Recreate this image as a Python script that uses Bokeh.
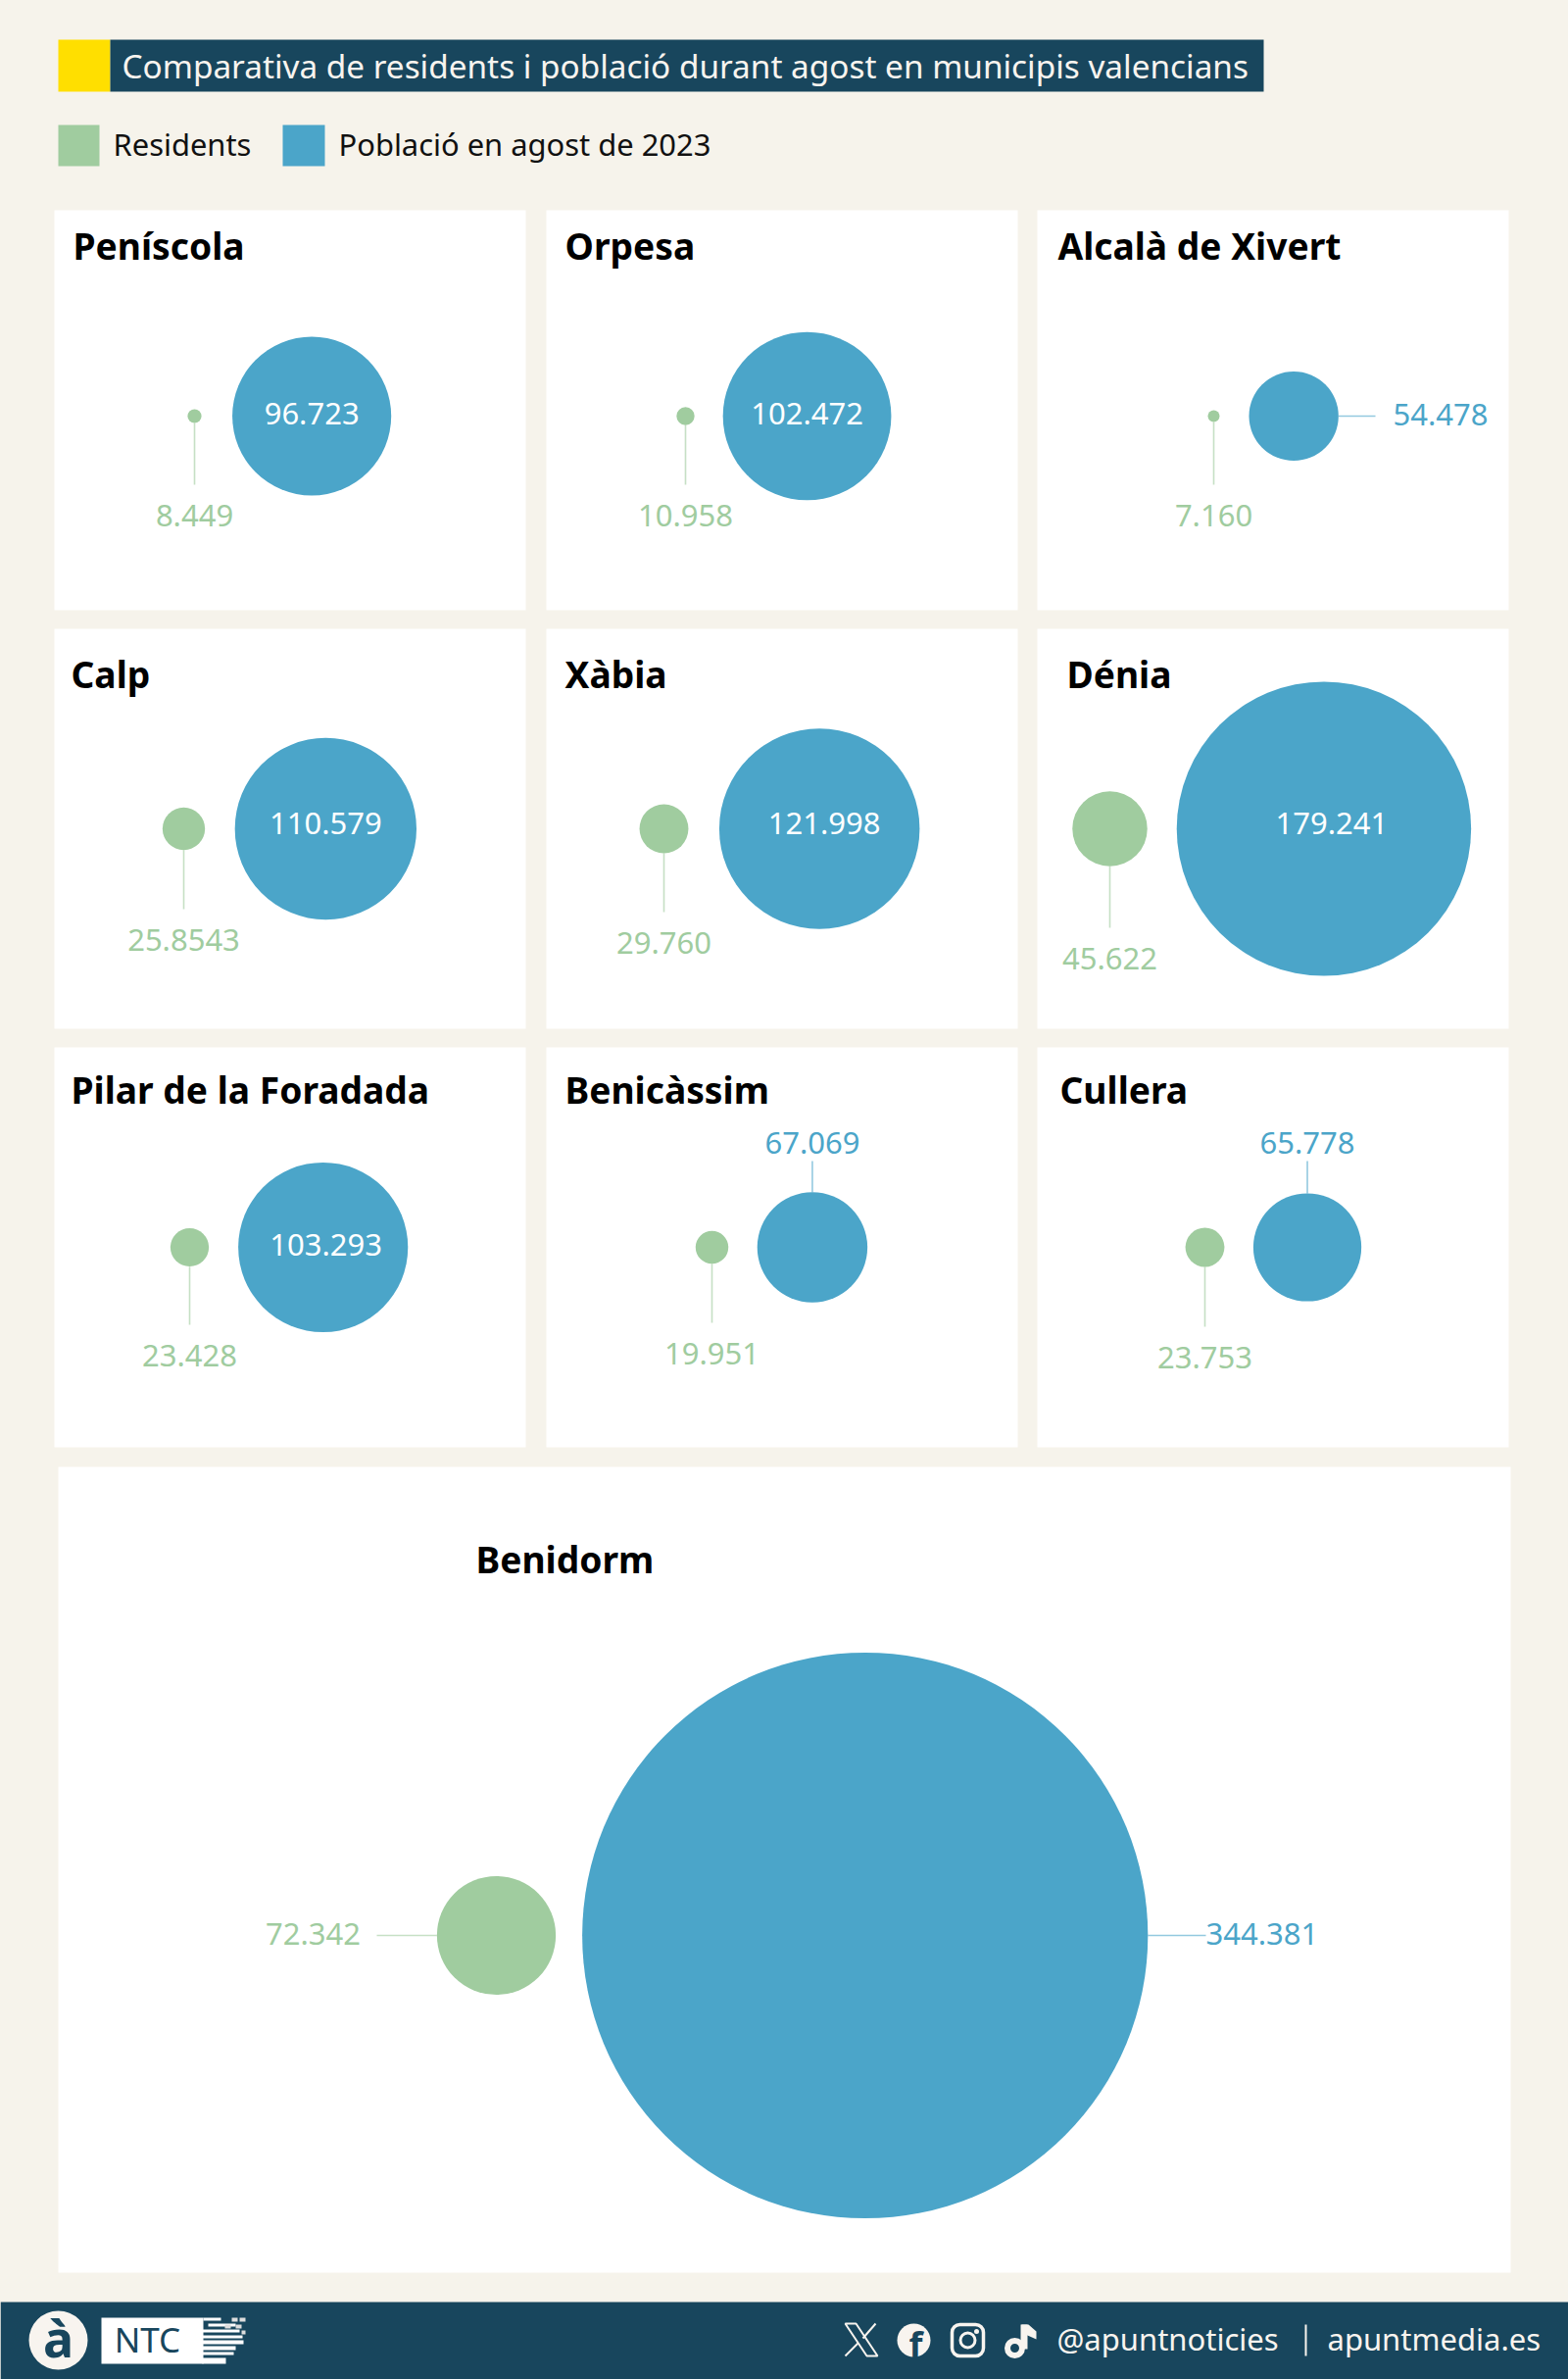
from bokeh.core.properties import value
from bokeh.embed import file_html
from bokeh.models import GlobalInlineStyleSheet, Range1d
from bokeh.plotting import figure
from bokeh.resources import INLINE

# data
municipis = ["Peníscola", "Orpesa", "Alcalà de Xivert", "Calp", "Xàbia", "Dénia",
             "Pilar de la Foradada", "Benicàssim", "Cullera", "Benidorm"]
residents = [8449, 10958, 7160, 25854, 29760, 45622, 23428, 19951, 23753, 72342]
poblacio = [96723, 102472, 54478, 110579, 121998, 179241, 103293, 67069, 65778, 344381]
residents_txt = ["8.449", "10.958", "7.160", "25.8543", "29.760", "45.622",
                 "23.428", "19.951", "23.753", "72.342"]
poblacio_txt = ["96.723", "102.472", "54.478", "110.579", "121.998", "179.241",
                "103.293", "67.069", "65.778", "344.381"]

titol = "Comparativa de residents i població durant agost en municipis valencians"
llegenda = ["Residents", "Població en agost de 2023"]

# colours
FONS = "#f6f3eb"
NAVY = "#18465d"
GROC = "#ffdf00"
VERD = "#a0cc9f"
BLAU = "#4ba5c9"
CREMA = "#f8f4ef"
FONT = value("Noto Sans")

# layout of the panels, in page pixels
panel_x0 = [55, 557, 1058, 55, 557, 1058, 55, 557, 1058, 59]
panel_x1 = [536, 1038, 1539, 536, 1038, 1539, 536, 1038, 1539, 1541]
panel_y0 = [214, 214, 214, 641, 641, 641, 1068, 1068, 1068, 1496]
panel_y1 = [622, 622, 622, 1049, 1049, 1049, 1476, 1476, 1476, 2318]
nom_x = [74, 576, 1079, 72, 576, 1088, 72, 576, 1081, 485]
nom_y = [250, 250, 250, 687, 687, 687, 1111, 1111, 1111, 1590]
cx_verd = [198, 699, 1238, 187, 677, 1132, 193, 726, 1229, 506]
cy = [424, 424, 424, 845, 845, 845, 1272, 1272, 1272, 1974]
etiq_verd_y = [525, 525, 525, 958, 961, 977, 1382, 1380, 1384, 1972]
etiq_blau_dx = [0, 0, 0, 0, 5, 8, 3, 0, 0, 0]
etiq_blau_dy = [-3, -3, -3, -6, -6, -6, -3, -3, -3, -3]
gap = [31.5, 29, 30, 30.5, 31.5, 30, 30, 29.5, 29.5, 27]

PX_PER_HAB = 288.6 / 344381   # bubble radius grows linearly with the value

p = figure(width=1600, height=2427, x_range=Range1d(0, 1600), y_range=Range1d(2427, 0),
           output_backend="svg", toolbar_location=None, min_border=0,
           background_fill_color=FONS, border_fill_color=FONS, outline_line_color=None)
p.axis.visible = False
p.grid.visible = False
p.stylesheets = [GlobalInlineStyleSheet(css=f"html,body{{margin:0;background:{FONS};overflow:hidden}}")]

# header
p.quad(left=[59], right=[112], top=[40], bottom=[93], fill_color=GROC, line_color=None)
p.quad(left=[112], right=[1289], top=[40], bottom=[93], fill_color=NAVY, line_color=None)
p.text(x=[124], y=[66], text=[titol], text_font=FONT, text_font_size="33.35px", text_color=CREMA,
       text_baseline="middle")

p.quad(left=[59], right=[101], top=[127], bottom=[169], fill_color=VERD, line_color=None)
p.quad(left=[288], right=[331], top=[127], bottom=[169], fill_color=BLAU, line_color=None)
p.text(x=[115, 345], y=[146, 146], text=llegenda, text_font=FONT, text_font_size="30.9px",
       text_color="#111111", text_baseline="middle")

# panels
p.quad(left=panel_x0, right=panel_x1, top=panel_y0, bottom=panel_y1, fill_color="white", line_color=None)
p.text(x=nom_x, y=nom_y, text=municipis, text_font=FONT, text_font_size="37.2px", text_font_style="bold",
       text_color="#000000", text_baseline="middle")

r_verd = [v * PX_PER_HAB for v in residents]
r_blau = [v * PX_PER_HAB for v in poblacio]
cx_blau = [x + a + g + b for x, a, g, b in zip(cx_verd, r_verd, gap, r_blau)]

p.circle(x=cx_verd, y=cy, radius=r_verd, fill_color=VERD, line_color=None)
p.circle(x=cx_blau, y=cy, radius=r_blau, fill_color=BLAU, line_color=None)

# leader lines and labels for residents: below the bubble, except Benidorm
for i in range(9):
    p.line([cx_verd[i]] * 2, [cy[i] + r_verd[i], etiq_verd_y[i] - 31], line_color=VERD, line_alpha=0.6, line_width=1.6)
p.line([384, cx_verd[9] - r_verd[9]], [cy[9]] * 2, line_color=VERD, line_alpha=0.6, line_width=1.6)

etiq_x = cx_verd[:9] + [319]
p.text(x=etiq_x, y=etiq_verd_y, text=residents_txt, text_font=FONT, text_font_size="31px", text_color=VERD,
       text_align="center", text_baseline="middle")

# population labels: white inside the bubble when it fits, blue outside otherwise
dins = [0, 1, 3, 4, 5, 6]
p.text(x=[cx_blau[i] + etiq_blau_dx[i] for i in dins], y=[cy[i] + etiq_blau_dy[i] for i in dins],
       text=[poblacio_txt[i] for i in dins], text_font=FONT, text_font_size="31px", text_color="white",
       text_align="center", text_baseline="middle")

p.line([cx_blau[2] + r_blau[2], 1403], [cy[2]] * 2, line_color=BLAU, line_alpha=0.6, line_width=1.6)
p.line([cx_blau[9] + r_blau[9], 1230], [cy[9]] * 2, line_color=BLAU, line_alpha=0.6, line_width=1.6)
for i in (7, 8):
    p.line([cx_blau[i]] * 2, [cy[i] - r_blau[i], 1184], line_color=BLAU, line_alpha=0.6, line_width=1.6)
p.text(x=[1421, 1230], y=[cy[2] - 2, cy[9] - 2], text=[poblacio_txt[2], poblacio_txt[9]], text_font=FONT,
       text_font_size="31px", text_color=BLAU, text_baseline="middle")
p.text(x=[cx_blau[7], cx_blau[8]], y=[1165, 1165], text=[poblacio_txt[7], poblacio_txt[8]], text_font=FONT,
       text_font_size="31px", text_color=BLAU, text_align="center", text_baseline="middle")

# footer
p.quad(left=[0], right=[1600], top=[2348], bottom=[2427], fill_color=NAVY, line_color=None)
p.circle(x=[59], y=[2387], radius=30, fill_color=CREMA, line_color=None)
p.text(x=[59], y=[2384], text=["à"], text_font=FONT, text_font_size="52px", text_font_style="bold",
       text_color=NAVY, text_align="center", text_baseline="middle")
p.quad(left=[103], right=[207], top=[2364], bottom=[2411], fill_color="white", line_color=None)
p.text(x=[150], y=[2386], text=["NTC"], text_font=FONT, text_font_size="35px", text_color=NAVY,
       text_align="center", text_baseline="middle")
p.quad(left=[207, 212, 204, 200, 197, 206, 204, 206], right=[225, 240, 244, 247, 248, 240, 238, 230],
       top=[2364, 2370, 2376, 2382, 2387, 2393, 2399, 2405],
       bottom=[2367, 2373, 2379, 2385, 2391, 2397, 2402, 2411], fill_color="white", line_color=None)
p.quad(left=[236, 244, 229, 240, 246], right=[242, 250, 235, 246, 250],
       top=[2364, 2364, 2371, 2371, 2377], bottom=[2368, 2368, 2375, 2375, 2381],
       fill_color="#dddddd", line_color=None)

# social icons
p.patch([862, 873, 895, 884], [2370, 2370, 2403, 2403], fill_color=None, line_color=CREMA, line_width=2)
p.line([893, 880], [2370, 2385], line_color=CREMA, line_width=2)
p.line([875, 862], [2390, 2403], line_color=CREMA, line_width=2)
p.circle(x=[932], y=[2387], radius=17, fill_color=CREMA, line_color=None)
p.text(x=[934], y=[2391], text=["f"], text_font=FONT, text_font_size="36px", text_font_style="bold",
       text_color=NAVY, text_align="center", text_baseline="middle")
p.quad(left=[971], right=[1003], top=[2371], bottom=[2403], fill_color=None, line_color=CREMA, line_width=3.5,
       border_radius=8)
p.circle(x=[987], y=[2387], radius=7.5, fill_color=None, line_color=CREMA, line_width=3)
p.circle(x=[996], y=[2378], radius=2.5, fill_color=CREMA, line_color=None)
p.circle(x=[1035], y=[2395], radius=7.5, fill_color=None, line_color=CREMA, line_width=6)
p.quad(left=[1041], right=[1048], top=[2371], bottom=[2396], fill_color=CREMA, line_color=None)
p.patch([1042, 1049, 1057, 1057, 1048, 1042], [2371, 2371, 2378, 2386, 2382, 2380], fill_color=CREMA, line_color=None)

p.text(x=[1078, 1354], y=[2385, 2385], text=["@apuntnoticies", "apuntmedia.es"], text_font=FONT,
       text_font_size="31px", text_color=CREMA, text_baseline="middle")
p.line([1332, 1332], [2371, 2403], line_color=CREMA, line_width=2)

open("out.html", "w").write(file_html(p, INLINE))
